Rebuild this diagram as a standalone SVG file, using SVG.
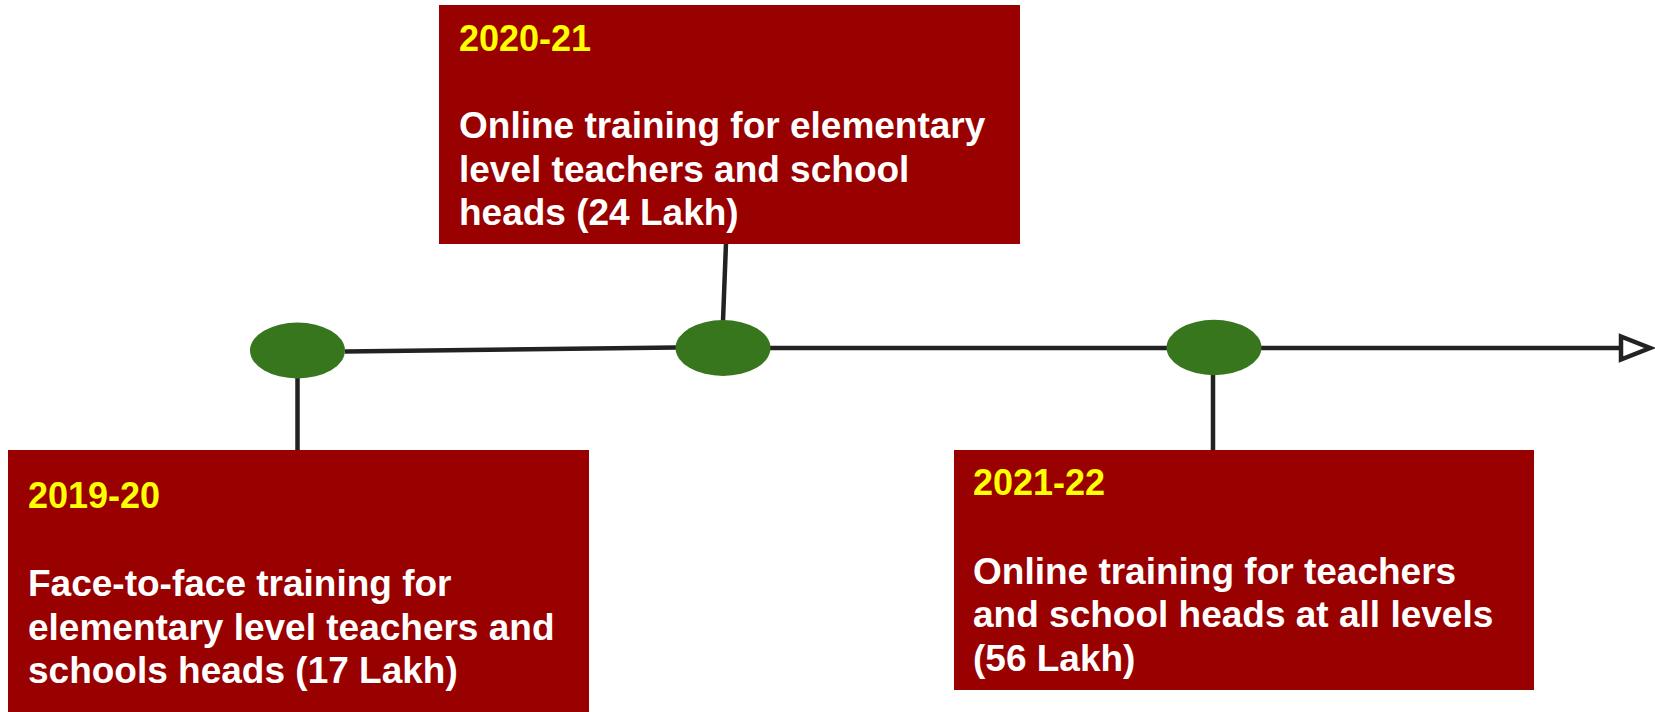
<svg xmlns="http://www.w3.org/2000/svg" width="1655" height="712" viewBox="0 0 1655 712">
<defs>
<style>
.box{fill:#990000;}
.dot{fill:#38761d;}
.ln{stroke:#222222;stroke-width:4.5;fill:none;}
.yr{font-family:"Liberation Sans",Arial,sans-serif;font-weight:bold;font-size:36px;fill:#ffff00;}
.tx{font-family:"Liberation Sans",Arial,sans-serif;font-weight:bold;font-size:37px;fill:#ffffff;}
</style>
<marker id="arr" viewBox="0 0 12 12" refX="10" refY="6" markerWidth="8" markerHeight="8" markerUnits="userSpaceOnUse" orient="auto">
</marker>
</defs>
<rect width="1655" height="712" fill="#ffffff"/>
<g id="connectors">
<line class="ln" x1="345" y1="351.5" x2="676" y2="347.5"/>
<line class="ln" x1="770" y1="348" x2="1167" y2="348"/>
<line class="ln" x1="1260" y1="348" x2="1622" y2="348"/>
<polygon points="1621,336.5 1650,348 1621,359.5" fill="#ffffff" stroke="#222222" stroke-width="4.5" stroke-linejoin="miter"/>
<line class="ln" x1="297.5" y1="378" x2="297.5" y2="451"/>
<line class="ln" x1="726" y1="243" x2="723" y2="321"/>
<line class="ln" x1="1213" y1="375" x2="1213" y2="451"/>
</g>
<g id="dot1"><ellipse class="dot" cx="297.5" cy="350.5" rx="47.5" ry="28"/></g>
<g id="dot2"><ellipse class="dot" cx="723" cy="348" rx="47.5" ry="28"/></g>
<g id="dot3"><ellipse class="dot" cx="1214" cy="347.5" rx="47.5" ry="27.7"/></g>
<g id="box2020">
<rect class="box" x="439" y="5" width="581" height="239"/>
<text class="yr" x="459" y="51">2020-21</text>
<text class="tx" x="459" y="138">Online training for elementary</text>
<text class="tx" x="459" y="182">level teachers and school</text>
<text class="tx" x="459" y="225">heads (24 Lakh)</text>
</g>
<g id="box2019">
<rect class="box" x="8" y="450" width="581" height="262"/>
<text class="yr" x="28" y="508">2019-20</text>
<text class="tx" x="28" y="596">Face-to-face training for</text>
<text class="tx" x="28" y="640">elementary level teachers and</text>
<text class="tx" x="28" y="683">schools heads (17 Lakh)</text>
</g>
<g id="box2021">
<rect class="box" x="954" y="450" width="580" height="240"/>
<text class="yr" x="973" y="495">2021-22</text>
<text class="tx" x="973" y="584">Online training for teachers</text>
<text class="tx" x="973" y="627">and school heads at all levels</text>
<text class="tx" x="973" y="671">(56 Lakh)</text>
</g>
</svg>
